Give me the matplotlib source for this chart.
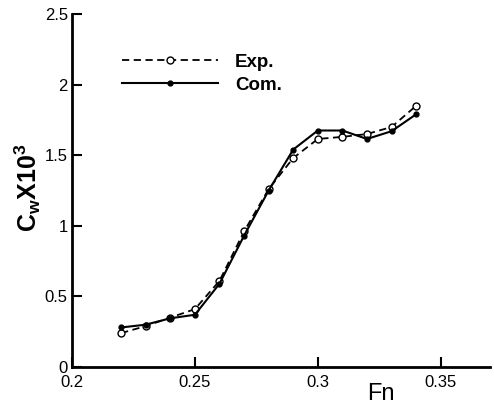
import matplotlib
matplotlib.use("Agg")
import matplotlib.pyplot as plt

fn = [0.22, 0.23, 0.24, 0.25, 0.26, 0.27, 0.28, 0.29, 0.30, 0.31, 0.32, 0.33, 0.34]
cw_exp = [0.24, 0.29, 0.35, 0.41, 0.61, 0.96, 1.26, 1.48, 1.615, 1.63, 1.65, 1.70, 1.85]
cw_com = [0.28, 0.30, 0.345, 0.37, 0.59, 0.93, 1.25, 1.54, 1.675, 1.675, 1.615, 1.67, 1.79]
xticks = [0.2, 0.25, 0.3, 0.35]
xticklabels = ["0.2", "0.25", "0.3", "0.35"]
yticks = [0, 0.5, 1, 1.5, 2, 2.5]
yticklabels = ["0", "0.5", "1", "1.5", "2", "2.5"]

plt.rcParams['font.family'] = ['Liberation Sans', 'DejaVu Sans']
plt.rcParams['mathtext.fontset'] = 'custom'
plt.rcParams['mathtext.rm'] = 'Liberation Sans:bold'
plt.rcParams['mathtext.it'] = 'Liberation Sans:bold'
plt.rcParams['mathtext.bf'] = 'Liberation Sans:bold'

fig = plt.figure(figsize=(4.94, 4.05), dpi=100)
ax = fig.add_axes([0.1457, 0.0938, 0.846, 0.8716])

ax.plot(fn, cw_exp, linestyle=(0, (4, 2.5)), color='black', lw=1.3,
        marker='o', markersize=5, markerfacecolor='white', markeredgecolor='black',
        markeredgewidth=1.0, label='Exp.')
ax.plot(fn, cw_com, linestyle='-', color='black', lw=1.5,
        marker='o', markersize=3.5, markerfacecolor='black', markeredgecolor='black',
        label='Com.')

ax.set_xlim(0.2, 0.37)
ax.set_ylim(0, 2.5)
ax.set_xticks(xticks)
ax.set_xticklabels(xticklabels)
ax.set_yticks(yticks)
ax.set_yticklabels(yticklabels)
ax.tick_params(direction='in', length=7, width=1.5, labelsize=12, pad=3)
ax.tick_params(axis='x', pad=6)
for s in ['top', 'right']:
    ax.spines[s].set_visible(False)
for s in ['left', 'bottom']:
    ax.spines[s].set_linewidth(2.0)

ax.set_ylabel(r'$\mathrm{C_w X10^3}$', fontsize=18)
ax.yaxis.set_label_coords(-0.07, 0.507)
ax.set_xlabel('Fn', fontsize=17)
ax.xaxis.set_label_coords(0.739, -0.045)

leg = ax.legend(loc='upper left', bbox_to_anchor=(0.08, 0.935), frameon=False,
                handlelength=5.1, handletextpad=0.9, labelspacing=0.3,
                prop={'family': 'Liberation Sans', 'weight': 'bold', 'size': 13.5})

fig.savefig('out.png', dpi=100)
